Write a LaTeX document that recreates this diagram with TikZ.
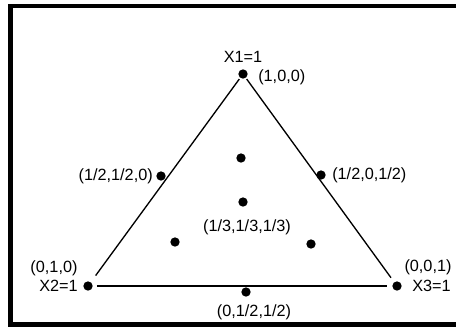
\documentclass[tikz,border=0pt]{standalone}
\usepackage{fontspec}
\setmainfont{Liberation Sans}
\begin{document}
\begin{tikzpicture}[x=0.75pt,y=-0.75pt,
  dot/.style={circle,fill=black,inner sep=0pt,minimum size=7pt,outer sep=1.2pt},
  lab/.style={inner sep=0pt,font=\fontsize{12.2pt}{14pt}\selectfont},
  edge/.style={line width=1pt}]
\useasboundingbox (0,0) rectangle (456,329);
\draw[line width=3.5pt] (460,6) -- (10.5,6) -- (10.5,324.5) -- (460,324.5);
% dots
\node[dot] (v1) at (243,74) {};
\node[dot] (v2) at (88,286) {};
\node[dot] (v3) at (397,286) {};
\node[dot] (m12) at (161,176) {};
\node[dot] (m13) at (321,175) {};
\node[dot] (m23) at (246,292) {};
\node[dot] (c) at (243,202) {};
\node[dot] (it) at (241,158) {};
\node[dot] (il) at (175,242) {};
\node[dot] (ir) at (311,244) {};
% edges
\draw[edge,shorten <=0pt,shorten >=5pt] (v1) -- (v2);
\draw[edge,shorten <=0pt,shorten >=3pt] (v1) -- (v3);
\draw[edge,shorten <=2pt,shorten >=3pt] (v2.east) -- (v3.west);
% labels
\node[lab] (l1) at (243,57) {X1=1};
\node[lab,anchor=west] (l100) at (258,77) {(1,0,0)};
\node[lab,anchor=east] (l12) at (153,176) {(1/2,1/2,0)};
\node[lab,anchor=west] (l13) at (332,175) {(1/2,0,1/2)};
\node[lab] (lc) at (247,227) {(1/3,1/3,1/3)};
\node[lab] (l010) at (54,268) {(0,1,0)};
\node[lab,anchor=east] (l2) at (78,286) {X2=1};
\node[lab] (l001) at (428,267) {(0,0,1)};
\node[lab,anchor=west] (l3) at (412,286) {X3=1};
\node[lab] (l23) at (254,312) {(0,1/2,1/2)};
\end{tikzpicture}
\end{document}
